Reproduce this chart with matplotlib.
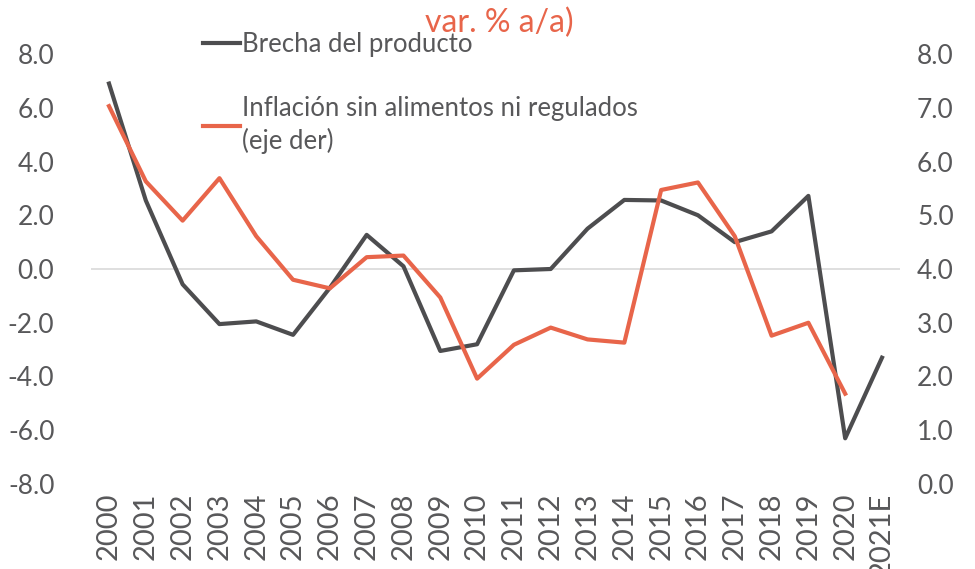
import matplotlib
matplotlib.use("Agg")
import matplotlib.pyplot as plt
import numpy as np

years = ["2000", "2001", "2002", "2003", "2004", "2005", "2006", "2007", "2008", "2009",
         "2010", "2011", "2012", "2013", "2014", "2015", "2016", "2017", "2018", "2019",
         "2020", "2021E"]
brecha = [6.9, 2.55, -0.57, -2.05, -1.95, -2.45, -0.7, 1.27, 0.1, -3.05,
          -2.8, -0.05, 0.0, 1.5, 2.57, 2.55, 2.0, 1.0, 1.4, 2.72, -6.3, -3.3]
inflacion = [7.03, 5.63, 4.9, 5.69, 4.61, 3.8, 3.64, 4.22, 4.25, 3.47,
             1.96, 2.59, 2.91, 2.69, 2.63, 5.47, 5.61, 4.61, 2.76, 3.0, 1.68, np.nan]
left_ticks = [-8, -6, -4, -2, 0, 2, 4, 6, 8]
right_ticks = [0, 1, 2, 3, 4, 5, 6, 7, 8]

GRAY = "#4d4d4f"
ORANGE = "#e8654a"
TXT = "#58585a"

plt.rcParams['font.family'] = ['Lato', 'DejaVu Sans']

fig = plt.figure(figsize=(9.75, 5.69), dpi=100)
W, H = 975, 569
ax = fig.add_axes([90.6 / W, 1 - 484 / H, (900.4 - 90.6) / W, (484 - 54) / H])
ax2 = ax.twinx()

x = np.arange(len(years))
ax.axhline(0, color="#d9d9d9", lw=1.2, zorder=0)
l1, = ax.plot(x, brecha, color=GRAY, lw=3.0, label="Brecha del producto", zorder=3)
l2, = ax2.plot(x, inflacion, color=ORANGE, lw=3.0,
               label="Inflación sin alimentos ni regulados\n(eje der)", zorder=3)

ax.set_xlim(-0.5, len(years) - 0.5)
ax.set_ylim(-8, 8)
ax2.set_ylim(0, 8)
ax.set_yticks(left_ticks)
ax.set_yticklabels([f"{v:.1f}" for v in left_ticks])
ax2.set_yticks(right_ticks)
ax2.set_yticklabels([f"{v:.1f}" for v in right_ticks])
ax.set_xticks(x)
ax.set_xticklabels(years, rotation=90)

for a in (ax, ax2):
    for s in a.spines.values():
        s.set_visible(False)
    a.tick_params(length=0, labelsize=19, colors=TXT)
ax.tick_params(axis='y', pad=26)
ax2.tick_params(axis='y', pad=12)
ax.tick_params(axis='x', pad=6, labelsize=21)

leg = ax.legend(handles=[l1, l2], loc="upper left",
                bbox_to_anchor=(203 / W, 1 - 32 / H), bbox_transform=fig.transFigure,
                frameon=False, fontsize=18.5, handlelength=1.45, handletextpad=0.08,
                labelspacing=1.5, borderpad=0, borderaxespad=0)
for t in leg.get_texts():
    t.set_color(TXT)
    t.set_linespacing(1.35)

fig.text(499 / W, 1 - 32 / H,
         "(Brecha del producto, % del PIB potencial; inflación sin alimentos y regulados,\nvar. % a/a)",
         ha="center", va="baseline", color=ORANGE, fontsize=23, linespacing=1.55)

fig.savefig("out.png", dpi=100)
